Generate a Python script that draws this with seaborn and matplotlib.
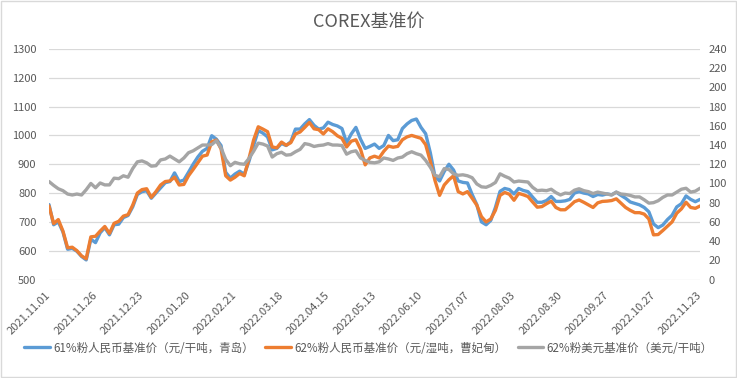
import numpy as np
import matplotlib
matplotlib.use("Agg")
import matplotlib.pyplot as plt
from matplotlib.patches import Rectangle
import seaborn as sns

# x axis labels (one every 10 samples)
tick_labels = ['2021.11.01', '2021.11.26', '2021.12.23', '2022.01.20', '2022.02.21',
               '2022.03.18', '2022.04.15', '2022.05.13', '2022.06.10', '2022.07.07',
               '2022.08.03', '2022.08.30', '2022.09.27', '2022.10.27', '2022.11.23']

# 61% fines, RMB (yuan/dry t, Qingdao) - left axis
rmb61 = [760, 690, 700, 665, 605, 608, 598, 580, 568, 640,
         628, 662, 680, 655, 690, 692, 715, 722, 752, 795,
         805, 808, 782, 800, 818, 836, 840, 870, 840, 845,
         872, 900, 925, 945, 955, 999, 987, 965, 872, 852,
         866, 876, 865, 910, 965, 1017, 1008, 995, 950, 955,
         972, 965, 978, 1022, 1022, 1040, 1055, 1035, 1022, 1026,
         1046, 1038, 1033, 1024, 975, 1005, 1028, 987, 955, 962,
         970, 955, 965, 1000, 982, 985, 1024, 1040, 1052, 1057,
         1028, 1006, 940, 858, 842, 875, 900, 880, 842, 837,
         835, 795, 760, 700, 690, 705, 750, 806, 816, 812,
         797, 816, 809, 805, 786, 768, 768, 774, 788, 771,
         771, 773, 778, 800, 805, 800, 797, 788, 795, 793,
         797, 794, 803, 792, 782, 769, 764, 759, 750, 735,
         693, 680, 689, 708, 723, 752, 763, 790, 778, 770,
         778]

# 62% fines, RMB (yuan/wet t, Caofeidian) - left axis
rmb62 = [755, 694, 708, 668, 610, 612, 600, 582, 572, 648,
         650, 668, 684, 660, 695, 702, 720, 725, 758, 800,
         812, 815, 785, 805, 828, 840, 842, 855, 828, 830,
         860, 882, 905, 928, 932, 978, 984, 953, 860, 845,
         855, 868, 860, 920, 984, 1030, 1022, 1013, 960, 957,
         977, 966, 975, 1005, 1012, 1028, 1045, 1023, 1020, 1005,
         1023, 1013, 999, 990, 960, 980, 985, 952, 898, 922,
         928, 922, 945, 963, 959, 962, 985, 995, 1000, 995,
         990, 968, 910, 844, 792, 828, 846, 860, 805, 797,
         805, 782, 758, 718, 700, 710, 740, 792, 802, 796,
         775, 799, 794, 788, 769, 751, 753, 763, 772, 750,
         742, 742, 755, 770, 776, 768, 759, 750, 766, 771,
         772, 774, 780, 765, 750, 740, 732, 732, 727, 710,
         655, 656, 670, 685, 700, 730, 745, 768, 750, 747,
         755]

# 62% fines, USD (usd/dry t) - right axis
usd62 = [102, 98, 94.5, 92.5, 89, 88, 89, 88, 93.5, 100,
         95.5, 100.5, 98.5, 98.5, 105.5, 105, 108, 106.5, 115.5, 122.5,
         123.5, 121.5, 118, 118.5, 124.5, 125.5, 128.5, 125.5, 122.5, 126.5,
         132, 134, 137, 140, 140, 140.5, 144.5, 137, 125, 118.5,
         122, 120.5, 120, 126, 133.5, 142, 141, 139, 127.5, 131,
         132.5, 129.5, 130, 133, 135.5, 141.5, 140.5, 138.5, 139.5, 140,
         141.5, 140, 140, 139.5, 130.5, 133, 134, 126.5, 124, 122,
         121.5, 122.5, 126.5, 125.5, 124, 126.5, 127.5, 131, 133, 131,
         129.5, 124, 117, 108.5, 107, 115.5, 114.5, 110, 108.5, 109,
         108, 106, 99.5, 96.5, 96, 98, 101, 110, 107.5, 105.5,
         101.5, 102.5, 102, 101.5, 96, 92.5, 93, 92.5, 94, 90.5,
         88, 90, 89.5, 93, 94.5, 92.5, 91.5, 89.5, 91, 90,
         89, 88, 91, 89, 88.5, 87.5, 86, 86, 83, 79.5,
         80, 82, 85.5, 88, 88, 91, 94, 95, 91, 92,
         95]

names = ['61%粉人民币基准价（元/干吨，青岛）',
         '62%粉人民币基准价（元/湿吨，曹妃甸）',
         '62%粉美元基准价（美元/干吨）']
colors = ['#5B9BD5', '#ED7D31', '#A5A5A5']

assert len(rmb61) == len(rmb62) == len(usd62)

sns.set_theme(style="white")
plt.rcParams['font.family'] = ['Noto Sans CJK SC', 'DejaVu Sans']
txt = '#595959'
grid = '#D9D9D9'

x = np.arange(len(rmb61))

fig = plt.figure(figsize=(7.37, 3.78), dpi=100)
fig.patches.append(Rectangle((0.001, 0.002), 0.997, 0.995, transform=fig.transFigure,
                             fill=False, edgecolor=grid, lw=1))
ax = fig.add_axes([49 / 737, 1 - 279.5 / 378, 651 / 737, 230.5 / 378])
ax2 = ax.twinx()

sns.lineplot(x=x, y=rmb61, ax=ax, color=colors[0], lw=2.4, label=names[0], legend=False)
sns.lineplot(x=x, y=rmb62, ax=ax, color=colors[1], lw=2.4, label=names[1], legend=False)
sns.lineplot(x=x, y=usd62, ax=ax2, color=colors[2], lw=2.4, label=names[2], legend=False)

ax.set_ylim(500, 1300)
ax.set_yticks(range(500, 1301, 100))
ax2.set_ylim(0, 240)
ax2.set_yticks(range(0, 241, 20))
ax.set_xlim(x[0], x[-1])
ax.set_xticks(x[::10])
ax.set_xticklabels(tick_labels, rotation=45, ha='right', va='center', rotation_mode='anchor')

ax.grid(axis='y', color=grid, lw=0.9)
ax.set_axisbelow(True)
for a in (ax, ax2):
    for s in a.spines.values():
        s.set_visible(False)
    a.tick_params(length=0, labelsize=8, colors=txt)
    a.set_xlabel('')
    a.set_ylabel('')
ax.tick_params(axis='x', pad=10)
ax.tick_params(axis='y', pad=9)
ax2.tick_params(axis='y', pad=6)

fig.text(0.5, 1 - 22 / 378, 'COREX基准价', ha='center', va='center', fontsize=13, color=txt)

h1, l1 = ax.get_legend_handles_labels()
h2, l2 = ax2.get_legend_handles_labels()
fig.legend(h1 + h2, l1 + l2, loc='center', bbox_to_anchor=(0.5, 1 - 348 / 378), ncol=3,
           frameon=False, fontsize=8.3, labelcolor=txt, handlelength=2.2,
           handletextpad=0.3, columnspacing=1.0)

fig.savefig('out.png', dpi=100)
